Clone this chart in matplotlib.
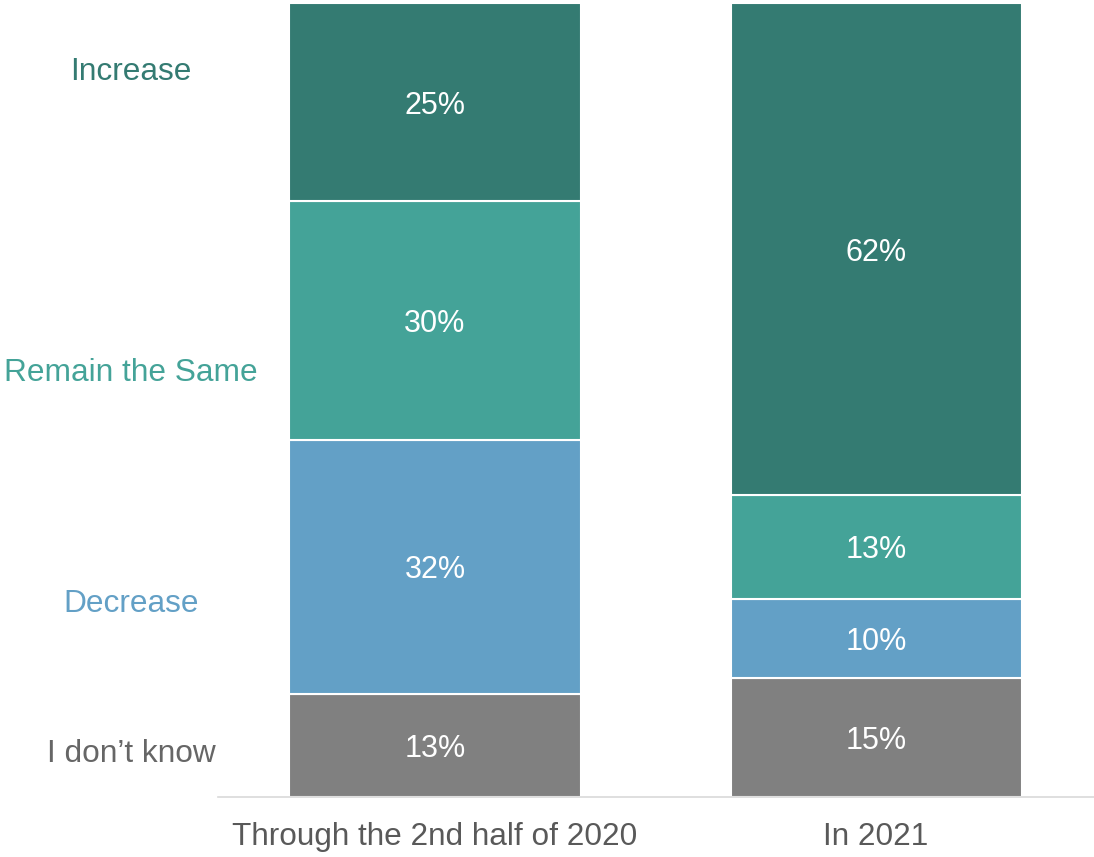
import matplotlib
matplotlib.use("Agg")
import matplotlib.pyplot as plt
from matplotlib.transforms import blended_transform_factory

plt.rcParams['font.family'] = ['Liberation Sans', 'DejaVu Sans']

categories = ["Through the 2nd half of 2020", "In 2021"]
responses = ["I don\u2019t know", "Decrease", "Remain the Same", "Increase"]
values = {
    "I don\u2019t know": [13, 15],
    "Decrease": [32, 10],
    "Remain the Same": [30, 13],
    "Increase": [25, 62],
}
colors = {
    "I don\u2019t know": "#808080",
    "Decrease": "#63A0C6",
    "Remain the Same": "#44A398",
    "Increase": "#347B72",
}
label_colors = {
    "I don\u2019t know": "#666666",
    "Decrease": "#63A0C6",
    "Remain the Same": "#44A398",
    "Increase": "#347B72",
}
label_y = {
    "Increase": 91.7,
    "Remain the Same": 53.9,
    "Decrease": 24.8,
    "I don\u2019t know": 5.9,
}

W, H = 1094, 857
fig = plt.figure(figsize=(W / 100, H / 100), dpi=100)
ax = fig.add_axes([218 / W, 60 / H, 876 / W, 794 / H])

x = list(range(len(categories)))
bottom = [0] * len(categories)
for r in responses:
    vals = values[r]
    ax.bar(x, vals, width=0.66, bottom=bottom, color=colors[r],
           edgecolor="white", linewidth=1.5, zorder=2)
    for xi, v, b in zip(x, vals, bottom):
        ax.text(xi, b + v / 2, f"{v}%", ha="center", va="center_baseline",
                color="white", fontsize=22)
    bottom = [b + v for b, v in zip(bottom, vals)]

ax.set_xlim(-0.492, 1.494)
ax.set_ylim(0, 100)
for s in ["top", "right", "left"]:
    ax.spines[s].set_visible(False)
ax.spines["bottom"].set_color("#D9D9D9")
ax.spines["bottom"].set_linewidth(1.2)
ax.set_yticks([])
ax.set_xticks(x)
ax.set_xticklabels(categories, fontsize=22.7, color="#595959")
ax.tick_params(axis="x", length=0, pad=18)

# Category labels on the left, aligned with the stacked segments
lab_tr = blended_transform_factory(fig.transFigure, ax.transData)
for r in responses:
    ax.text(131 / W, label_y[r], r, transform=lab_tr,
            ha="center", va="center_baseline", color=label_colors[r],
            fontsize=22.8)

fig.savefig("out.png", dpi=100)
